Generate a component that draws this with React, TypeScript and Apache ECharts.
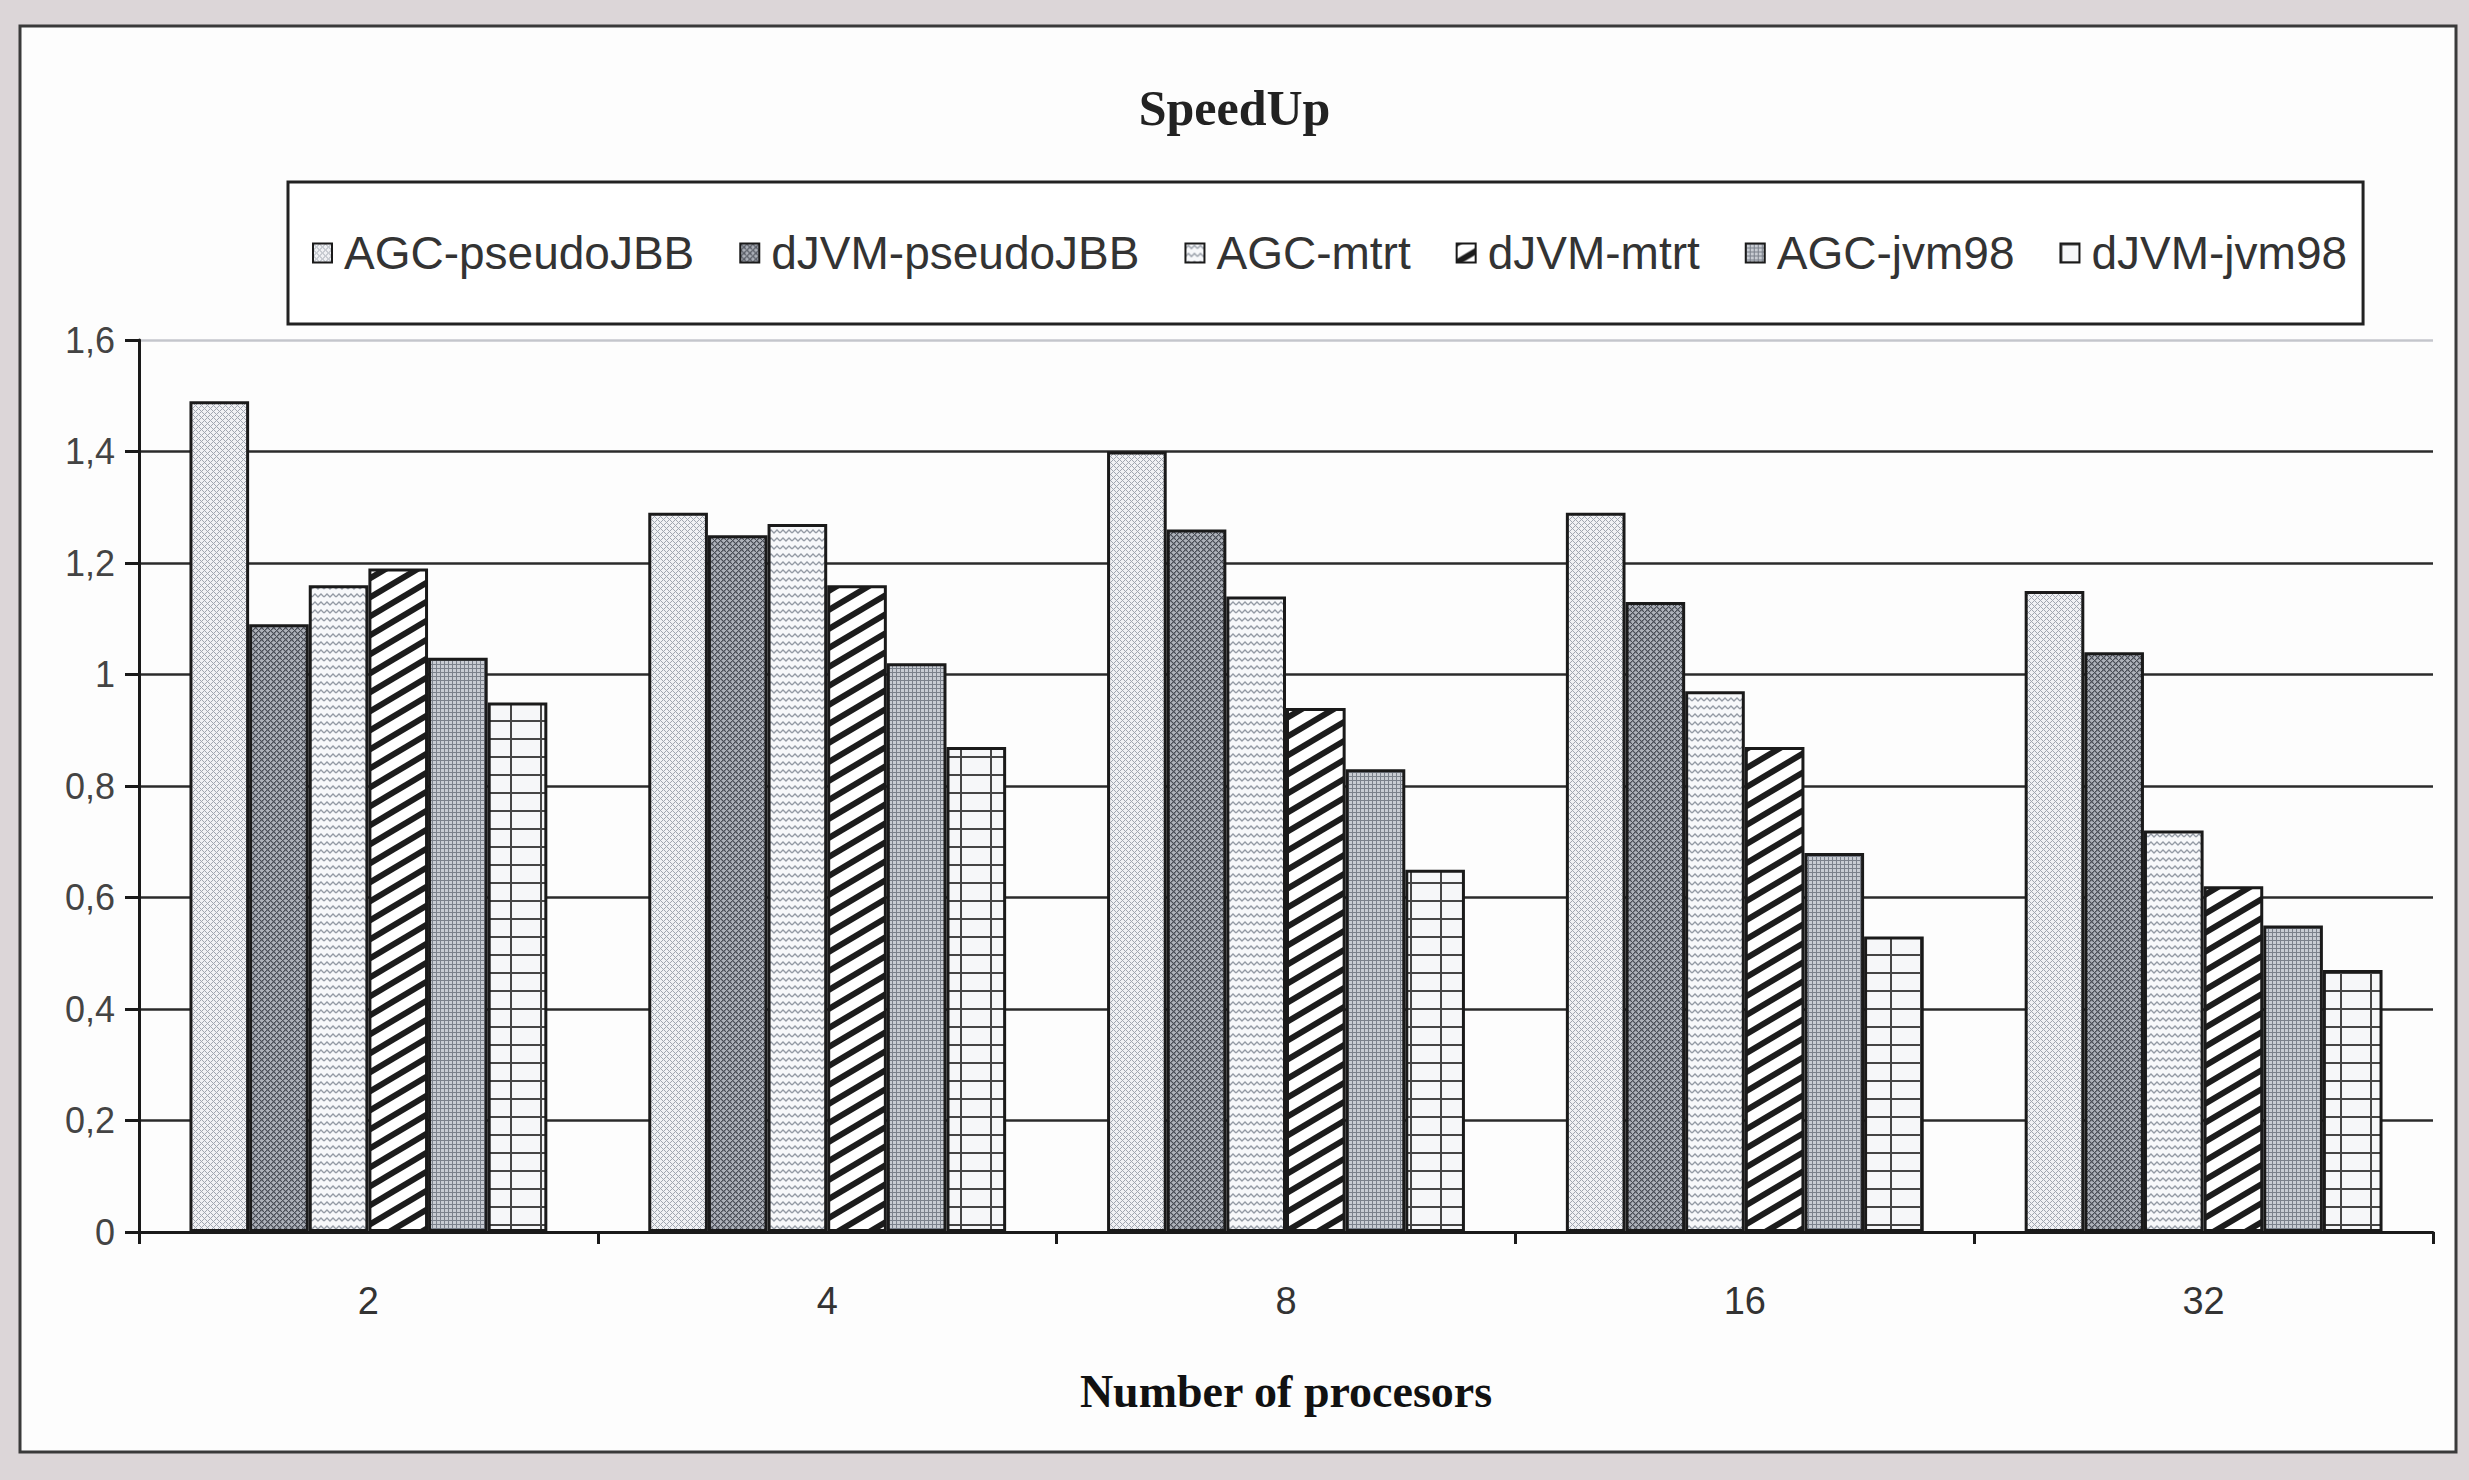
import React, { useEffect, useRef } from 'react';
import * as echarts from 'echarts';

// ---- data ----
const categories = ['2', '4', '8', '16', '32'];
const seriesNames = ['AGC-pseudoJBB', 'dJVM-pseudoJBB', 'AGC-mtrt', 'dJVM-mtrt', 'AGC-jvm98', 'dJVM-jvm98'];
const agcPseudoJBB = [1.49, 1.29, 1.40, 1.29, 1.15];
const djvmPseudoJBB = [1.09, 1.25, 1.26, 1.13, 1.04];
const agcMtrt = [1.16, 1.27, 1.14, 0.97, 0.72];
const djvmMtrt = [1.19, 1.16, 0.94, 0.87, 0.62];
const agcJvm98 = [1.03, 1.02, 0.83, 0.68, 0.55];
const djvmJvm98 = [0.95, 0.87, 0.65, 0.53, 0.47];
const yMin = 0;
const yMax = 1.6;
const yStep = 0.2;
const chartTitle = 'SpeedUp';
const xAxisTitle = 'Number of procesors';

const seriesValues = [agcPseudoJBB, djvmPseudoJBB, agcMtrt, djvmMtrt, agcJvm98, djvmJvm98];
const patternKinds = ['dots', 'cross', 'wave', 'diag', 'fine', 'grid'];

function makePattern(kind: string) {
  const c = document.createElement('canvas');
  let w = 6, h = 6;
  if (kind === 'wave') { w = 12; h = 8; }
  if (kind === 'diag') { w = 32; h = 19; }
  if (kind === 'fine') { w = 4; h = 4; }
  if (kind === 'grid') { w = 30; h = 18; }
  c.width = w; c.height = h;
  const ctx = c.getContext('2d') as CanvasRenderingContext2D;
  if (kind === 'dots') {
    ctx.fillStyle = '#f0f1f4'; ctx.fillRect(0, 0, w, h);
    ctx.fillStyle = '#a0a6b0';
    for (let i = 0; i < 6; i++) { ctx.fillRect(i, i, 1, 1); ctx.fillRect(i, (6 - i) % 6, 1, 1); }
  } else if (kind === 'cross') {
    ctx.fillStyle = '#aeb2ba'; ctx.fillRect(0, 0, w, h);
    ctx.fillStyle = '#4a4e56';
    for (let i = 0; i < 6; i++) { ctx.fillRect(i, i, 1.3, 1.3); ctx.fillRect(i, (6 - i) % 6, 1.3, 1.3); }
  } else if (kind === 'wave') {
    ctx.fillStyle = '#f7f8fa'; ctx.fillRect(0, 0, w, h);
    ctx.strokeStyle = '#939aa4'; ctx.lineWidth = 1.3;
    ctx.beginPath();
    ctx.moveTo(0, 5); ctx.lineTo(3, 2); ctx.lineTo(6, 5); ctx.lineTo(9, 2); ctx.lineTo(12, 5);
    ctx.stroke();
  } else if (kind === 'diag') {
    ctx.fillStyle = '#ffffff'; ctx.fillRect(0, 0, w, h);
    ctx.strokeStyle = '#1c1c1c'; ctx.lineWidth = 6;
    for (let k = -2; k <= 2; k++) {
      ctx.beginPath();
      ctx.moveTo(-w, 2 * h + k * h);
      ctx.lineTo(2 * w, -h + k * h);
      ctx.stroke();
    }
  } else if (kind === 'fine') {
    ctx.fillStyle = '#c8ccd3'; ctx.fillRect(0, 0, w, h);
    ctx.fillStyle = '#7b818b';
    ctx.fillRect(0, 0, w, 1); ctx.fillRect(0, 0, 1, h);
  } else {
    ctx.fillStyle = '#f6f7f9'; ctx.fillRect(0, 0, w, h);
    ctx.fillStyle = '#454545';
    ctx.fillRect(0, 0, w, 2); ctx.fillRect(0, 0, 2, h);
  }
  return { image: c.toDataURL(), repeat: 'repeat', imageWidth: w, imageHeight: h };
}

function fmt(v: number) {
  return String(+v.toFixed(1)).replace('.', ',');
}

export default function App() {
  const ref = useRef<HTMLDivElement>(null);
  useEffect(() => {
    if (!ref.current) return;
    const chart = echarts.init(ref.current, undefined, { renderer: 'svg' });
    const gridColors = ['#1a1a1a', '#2b2b2b', '#2b2b2b', '#2b2b2b', '#2b2b2b', '#2b2b2b', '#2b2b2b', '#2b2b2b', '#c4c6cc'];
    const option: any = {
      animation: false,
      backgroundColor: '#dcd6d8',
      graphic: {
        elements: [
          {
            type: 'rect', z: -100, silent: true,
            shape: { x: 20, y: 26, width: 2436, height: 1426 },
            style: { fill: '#fdfdfd', stroke: '#3a3a3a', lineWidth: 3 },
          },
        ],
      },
      title: {
        text: chartTitle,
        left: 'center',
        top: 78,
        textStyle: { fontFamily: 'Liberation Serif', fontWeight: 'bold', fontSize: 50, color: '#222' },
      },
      legend: {
        data: seriesNames,
        left: 288,
        top: 182,
        padding: [48, 16, 48, 24],
        itemGap: 45,
        itemWidth: 19,
        itemHeight: 19,
        icon: 'rect',
        borderColor: '#222',
        borderWidth: 3,
        backgroundColor: '#ffffff',
        textStyle: { fontFamily: 'Liberation Sans', fontSize: 46, color: '#333', padding: [0, 0, 0, 7] },
      },
      grid: { left: 139, right: 36, top: 340, bottom: 248 },
      xAxis: {
        type: 'category',
        data: categories,
        axisLine: { lineStyle: { color: '#1a1a1a', width: 3 } },
        axisTick: { show: true, length: 12, lineStyle: { color: '#1a1a1a', width: 3 } },
        axisLabel: { margin: 50, fontFamily: 'Liberation Sans', fontSize: 38, color: '#333' },
        name: xAxisTitle,
        nameLocation: 'middle',
        nameGap: 136,
        nameTextStyle: { fontFamily: 'Liberation Serif', fontWeight: 'bold', fontSize: 46, color: '#111' },
      },
      yAxis: {
        type: 'value',
        min: yMin,
        max: yMax,
        interval: yStep,
        axisLine: { show: true, lineStyle: { color: '#1a1a1a', width: 3 } },
        axisTick: { show: true, length: 14, lineStyle: { color: '#1a1a1a', width: 3 } },
        axisLabel: { margin: 24, formatter: fmt, fontFamily: 'Liberation Sans', fontSize: 36, color: '#444' },
        splitLine: { show: true, lineStyle: { color: gridColors, width: 2.5 } },
      },
      series: seriesNames.map((name, i) => ({
        name,
        type: 'bar',
        data: seriesValues[i],
        barGap: '0%',
        barCategoryGap: '22%',
        itemStyle: { color: makePattern(patternKinds[i]), borderColor: '#1a1a1a', borderWidth: 3 },
      })),
    };
    chart.setOption(option);
    return () => chart.dispose();
  }, []);
  return <div ref={ref} style={{ position: 'fixed', left: 0, top: 0, width: 2469, height: 1480 }} />;
}
